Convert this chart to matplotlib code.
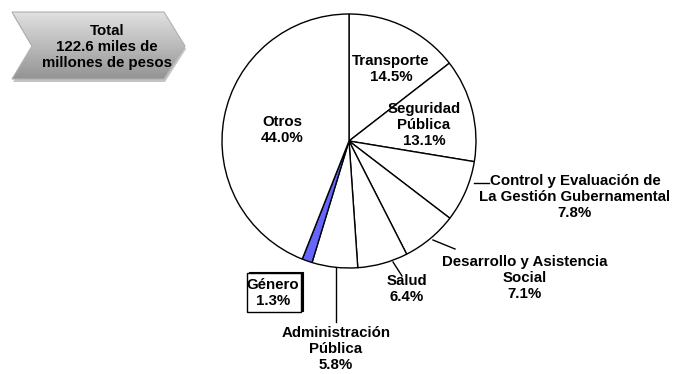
import matplotlib
matplotlib.use("Agg")
import matplotlib.pyplot as plt
import numpy as np
from matplotlib.patches import Polygon, Rectangle

categories = ["Transporte", "Seguridad\nPública", "Control y Evaluación de\nLa Gestión Gubernamental",
              "Desarrollo y Asistencia\nSocial", "Salud", "Administración\nPública", "Género", "Otros"]
values = [14.5, 13.1, 7.8, 7.1, 6.4, 5.8, 1.3, 44.0]
colors = ["white"] * 6 + ["#6666ff", "white"]
total_text = "Total\n122.6 miles de\nmillones de pesos"

W, H = 673, 374
fig = plt.figure(figsize=(W / 100, H / 100), dpi=100)
ax = fig.add_axes([0, 0, 1, 1])

def Y(py):
    return H - py

cx, cy, r = 349, 141, 127
ax.pie(values, colors=colors, startangle=90, counterclock=False,
       center=(cx, Y(cy)), radius=r, frame=True,
       wedgeprops=dict(edgecolor="black", linewidth=1.0))
ax.set_xlim(0, W)
ax.set_ylim(0, H)
ax.set_aspect("equal")
ax.axis("off")

font = dict(family=["Liberation Sans", "DejaVu Sans"], fontweight="bold", fontsize=10.8)

labels_pos = [(391, 69), (424, 125), (575, 197), (525, 278), (407, 289), (336, 349), (273, 293), (282, 130)]
for cat, v, (px, py) in zip(categories, values, labels_pos):
    txt = f"{cat}\n{v:.1f}%"
    ax.text(px, Y(py), txt, ha="center", va="center", linespacing=1.15, zorder=6, **font)

# Género box with thin shadow
bx0, by0, bx1, by1 = 247, 273, 301, 312
ax.add_patch(Rectangle((bx0 + 1.5, Y(by1) + 1.5), bx1 - bx0, by1 - by0, facecolor="black", edgecolor="black", lw=0.8, zorder=4))
ax.add_patch(Rectangle((bx0, Y(by1)), bx1 - bx0, by1 - by0, facecolor="white", edgecolor="black", lw=1.0, zorder=5))

# leader lines
leaders = [((474, 183), (489, 183)), ((433, 240), (455, 249)),
           ((393, 262), (402, 276)), ((336, 268), (336, 322))]
for (x0, y0), (x1, y1) in leaders:
    ax.plot([x0, x1], [Y(y0), Y(y1)], color="black", lw=1.0)

# Total chevron with shadow and gradient
pts = [(12, 12), (164, 12), (185, 46), (164, 79), (12, 79), (32, 46)]
shadow = Polygon([(x + 1, Y(y + 3)) for x, y in pts], closed=True, facecolor="#c4c4c4", edgecolor="none", zorder=2)
ax.add_patch(shadow)
poly = Polygon([(x, Y(y)) for x, y in pts], closed=True, facecolor="none", edgecolor="#b0b0b0", lw=0.8, zorder=4)
ax.add_patch(poly)
grad = np.linspace(0.88, 0.58, 100).reshape(-1, 1)
im = ax.imshow(grad, cmap="gray", vmin=0, vmax=1, extent=(12, 185, Y(79), Y(12)),
               aspect="auto", zorder=3, interpolation="bilinear")
im.set_clip_path(poly)
ax.text(107, Y(47), total_text, ha="center", va="center", linespacing=1.15, zorder=5, **font)

ax.set_xlim(0, W)
ax.set_ylim(0, H)
fig.savefig("out.png", dpi=100)
